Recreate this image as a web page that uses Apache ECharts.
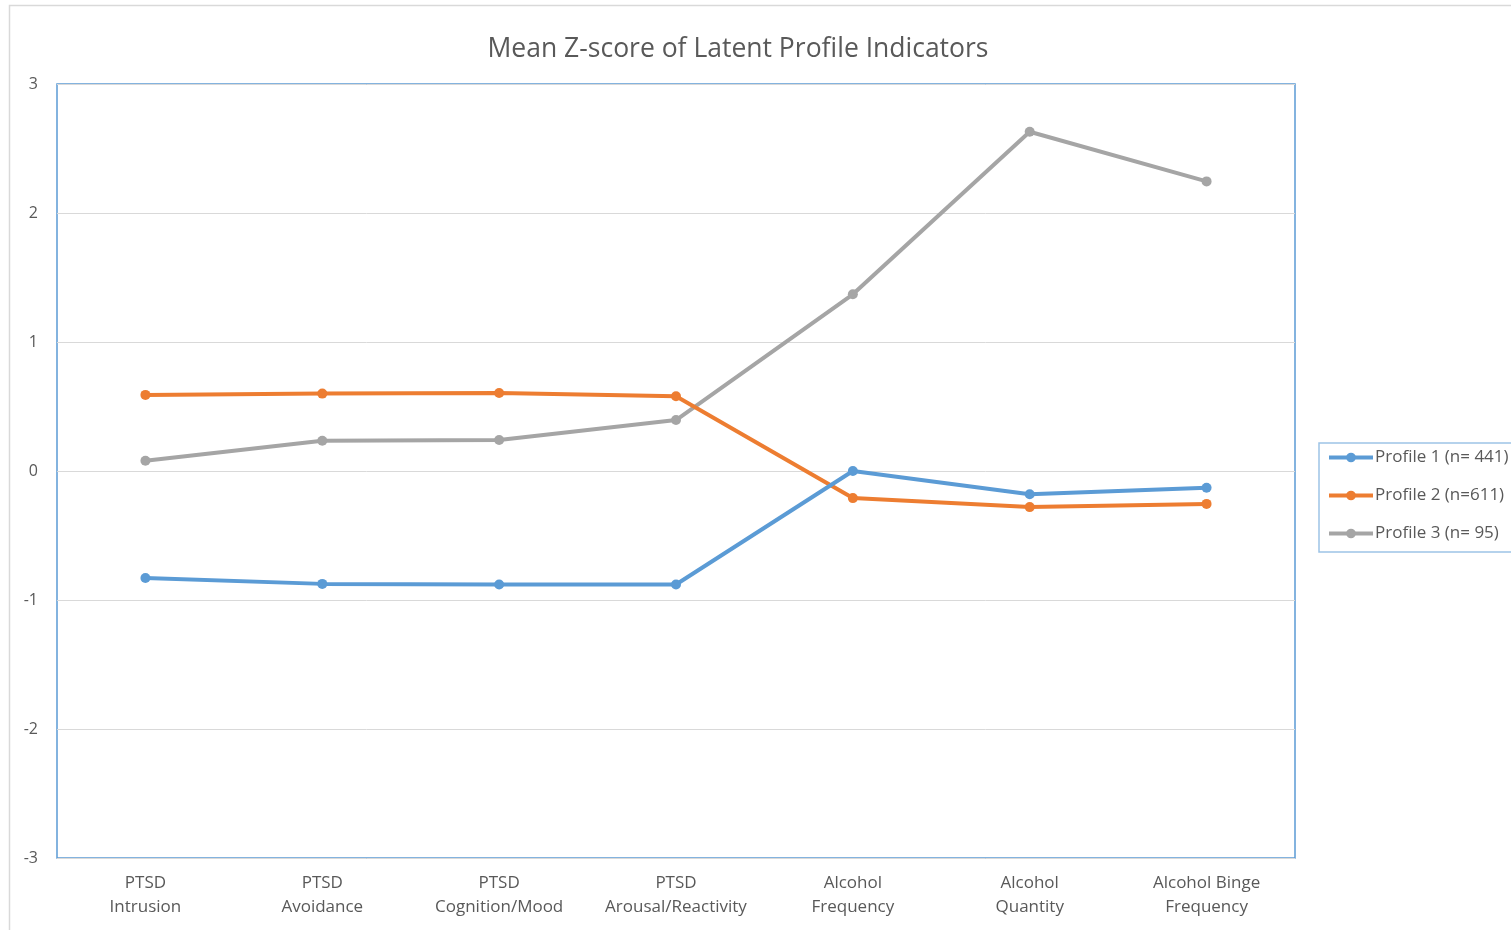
<!DOCTYPE html>
<html>
<head>
<meta charset="utf-8">
<script src="https://cdn.jsdelivr.net/npm/echarts@6/dist/echarts.min.js"></script>
<style>
  html, body { margin: 0; padding: 0; background: #ffffff; }
  #chart { width: 1511px; height: 930px; }
</style>
</head>
<body>
<div id="chart"></div>
<script>
// Indicator names along the x axis
const categories = [
  'PTSD\nIntrusion',
  'PTSD\nAvoidance',
  'PTSD\nCognition/Mood',
  'PTSD\nArousal/Reactivity',
  'Alcohol\nFrequency',
  'Alcohol\nQuantity',
  'Alcohol Binge\nFrequency'
];

// Mean z-scores per latent profile
const profile1 = [-0.83, -0.875, -0.88, -0.88, 0.00, -0.18, -0.13];
const profile2 = [0.59, 0.60, 0.605, 0.58, -0.21, -0.28, -0.255];
const profile3 = [0.08, 0.235, 0.24, 0.395, 1.37, 2.63, 2.245];

const seriesNames = ['Profile 1 (n= 441)', 'Profile 2 (n=611)', 'Profile 3 (n= 95)'];
const seriesColors = ['#5b9bd5', '#ed7d31', '#a5a5a5'];
const seriesValues = [profile1, profile2, profile3];

const yTicks = { min: -3, max: 3, step: 1 };

const chart = echarts.init(document.getElementById('chart'), null, { renderer: 'canvas' });

const textColor = '#595959';
const fontFamily = '"Open Sans", "Noto Sans", sans-serif';

chart.setOption({
  backgroundColor: '#ffffff',
  animation: false,
  textStyle: { fontFamily: fontFamily },
  graphic: [{
    type: 'rect',
    shape: { x: 9.5, y: 5.5, width: 1700, height: 1100 },
    style: { fill: 'none', stroke: '#d9d9d9', lineWidth: 1.5 },
    silent: true,
    z: -10
  }],
  title: {
    text: 'Mean Z-score of Latent Profile Indicators',
    left: 733,
    textAlign: 'center',
    top: 31,
    textStyle: {
      color: textColor,
      fontSize: 26.5,
      fontWeight: 'normal',
      fontFamily: fontFamily
    }
  },
  legend: {
    orient: 'vertical',
    left: 1319,
    top: 443,
    padding: [6, 40, 10, 8],
    itemGap: 21,
    itemWidth: 44,
    itemHeight: 12,
    lineStyle: { width: 4 },
    borderColor: '#9dc3e6',
    borderWidth: 1.5,
    textStyle: { color: textColor, fontSize: 17, fontFamily: fontFamily, padding: [0, 0, 0, -3] },
    data: seriesNames
  },
  grid: {
    left: 57,
    top: 84,
    width: 1238,
    height: 774,
    show: true,
    borderColor: '#5b9bd5',
    borderWidth: 1.5,
    backgroundColor: 'transparent'
  },
  xAxis: {
    type: 'category',
    data: categories,
    boundaryGap: true,
    axisLine: { show: false },
    axisTick: { show: false },
    splitLine: { show: false },
    axisLabel: {
      color: textColor,
      fontSize: 17,
      lineHeight: 24,
      margin: 13,
      interval: 0,
      fontFamily: fontFamily
    }
  },
  yAxis: {
    type: 'value',
    min: yTicks.min,
    max: yTicks.max,
    interval: yTicks.step,
    axisLine: { show: false },
    axisTick: { show: false },
    splitLine: { show: true, lineStyle: { color: '#d9d9d9', width: 1 } },
    axisLabel: {
      color: textColor,
      fontSize: 16,
      margin: 19,
      fontFamily: fontFamily
    }
  },
  series: seriesValues.map((vals, i) => ({
    name: seriesNames[i],
    type: 'line',
    data: vals,
    symbol: 'circle',
    symbolSize: 10,
    showSymbol: true,
    color: seriesColors[i],
    lineStyle: { width: 4, color: seriesColors[i] },
    itemStyle: { color: seriesColors[i] },
    z: 3 - i
  }))
});
</script>
</body>
</html>
